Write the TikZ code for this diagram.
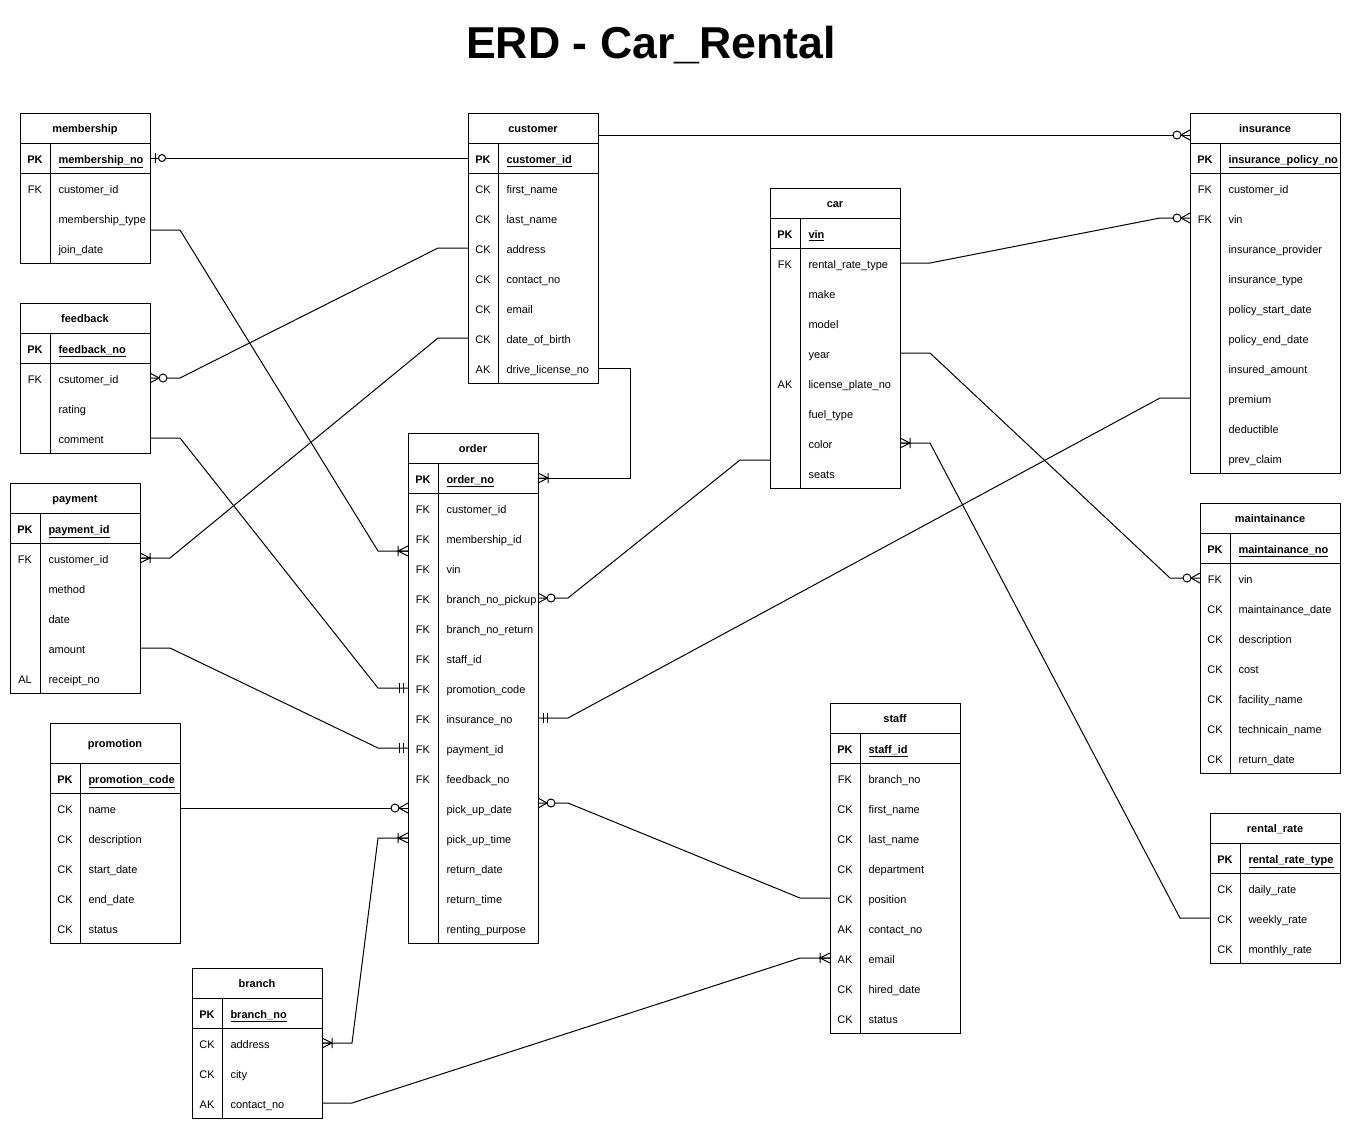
\documentclass[tikz,border=0pt]{standalone}
\usepackage{fontspec}
\setmainfont{Liberation Sans}
\usetikzlibrary{calc}

% one table: name, x, y, width, header height, title, key/field rows
\newcommand{\erdtable}[7]{%
  \node[tabhead, minimum width={#4*0.75pt}, minimum height={#5*0.75pt}] (#1) at (#2,#3) {#6};
  \foreach \k/\f [count=\i] in {#7}{%
    \node[rowbox, minimum width={#4*0.75pt}] (#1-\i) at ($(#1.south west)+(0,{30*(\i-1)})$) {};
    \node[keytext] at ($(#1-\i.west)+(15,0)$) {\ifnum\i=1 \bfseries\fi\k};
    \node[fieldtext] at ($(#1-\i.west)+(38,0)$) {\ifnum\i=1 \bfseries\underline{\f}\else\f\fi};
    \xdef\erdlast{\i}
  }
  \draw (#1.north west) rectangle (#1-\erdlast.south east);
  \draw (#1.south west) -- (#1.south east);
  \draw (#1-1.south west) -- (#1-1.south east);
  \draw ($(#1-1.north west)+(30,0)$) -- ($(#1-\erdlast.south west)+(30,0)$);
}

\begin{document}
\begin{tikzpicture}[x=0.75pt,y=0.75pt,yscale=-1,xscale=1,line width=0.75pt,
    font=\fontsize{8.25}{10}\selectfont,
    tabhead/.style={anchor=north west, inner sep=0pt, outer sep=0pt, text height=7pt, text depth=0pt, font=\fontsize{8.25}{10}\selectfont\bfseries},
    rowbox/.style={anchor=north west, inner sep=0pt, outer sep=0pt, minimum height=22.5pt},
    keytext/.style={inner sep=0pt, text height=7.5pt, text depth=0pt},
    fieldtext/.style={anchor=west, inner sep=0pt, text height=7.5pt, text depth=0pt},
    title/.style={font=\fontsize{33.5}{40}\selectfont\bfseries},
    onemany/.pic={\draw (0,-5) -- (10,0) -- (0,5) (0,0) -- (10,0) (10,-5) -- (10,5);},
    zeromany/.pic={\draw (0,-5) -- (9,0) -- (0,5); \draw[fill=white] (13,0) circle[radius=4];},
    mandone/.pic={\draw (5,-5) -- (5,5) (9,-5) -- (9,5);},
    zeroone/.pic={\draw (5,-5) -- (5,5); \draw[fill=white] (12,0) circle[radius=3.5];}]
    \useasboundingbox (0,0) rectangle (1351,1128);

    % Title
    \node[title] (ttl) at (651,45) {ERD - Car\_Rental};

    % Tables
    \erdtable{memb}{20}{113}{130}{30}{membership}{PK/membership\_no, FK/customer\_id, /membership\_type, /join\_date}
    \erdtable{cust}{468}{113}{130}{30}{customer}{PK/customer\_id, CK/first\_name, CK/last\_name, CK/address, CK/contact\_no, CK/email, CK/date\_of\_birth, AK/drive\_license\_no}
    \erdtable{ins}{1190}{113}{150}{30}{insurance}{PK/insurance\_policy\_no, FK/customer\_id, FK/vin, /insurance\_provider, /insurance\_type, /policy\_start\_date, /policy\_end\_date, /insured\_amount, /premium, /deductible, /prev\_claim}
    \erdtable{car}{770}{188}{130}{30}{car}{PK/vin, FK/rental\_rate\_type, /make, /model, /year, AK/license\_plate\_no, /fuel\_type, /color, /seats}
    \erdtable{fb}{20}{303}{130}{30}{feedback}{PK/feedback\_no, FK/csutomer\_id, /rating, /comment}
    \erdtable{pay}{10}{483}{130}{30}{payment}{PK/payment\_id, FK/customer\_id, /method, /date, /amount, AL/receipt\_no}
    \erdtable{ord}{408}{433}{130}{30}{order}{PK/order\_no, FK/customer\_id, FK/membership\_id, FK/vin, FK/branch\_no\_pickup, FK/branch\_no\_return, FK/staff\_id, FK/promotion\_code, FK/insurance\_no, FK/payment\_id, FK/feedback\_no, /pick\_up\_date, /pick\_up\_time, /return\_date, /return\_time, /renting\_purpose}
    \erdtable{maint}{1200}{503}{140}{30}{maintainance}{PK/maintainance\_no, FK/vin, CK/maintainance\_date, CK/description, CK/cost, CK/facility\_name, CK/technicain\_name, CK/return\_date}
    \erdtable{promo}{50}{723}{130}{40}{promotion}{PK/promotion\_code, CK/name, CK/description, CK/start\_date, CK/end\_date, CK/status}
    \erdtable{staff}{830}{703}{130}{30}{staff}{PK/staff\_id, FK/branch\_no, CK/first\_name, CK/last\_name, CK/department, CK/position, AK/contact\_no, AK/email, CK/hired\_date, CK/status}
    \erdtable{rr}{1210}{813}{130}{30}{rental\_rate}{PK/rental\_rate\_type, CK/daily\_rate, CK/weekly\_rate, CK/monthly\_rate}
    \erdtable{br}{192}{968}{130}{30}{branch}{PK/branch\_no, CK/address, CK/city, AK/contact\_no}

    % Relationships
    \draw (memb-1.east) -- (cust-1.west);
    \pic at (memb-1.east) {zeroone};

    \draw ($(cust.east)+(0,7)$) -- ($(ins.west)+(0,7)$);
    \pic[xscale=-1] at ($(ins.west)+(0,7)$) {zeromany};

    \draw (cust-8.east) -- ++(32,0) |- (ord-1.east);
    \pic at (ord-1.east) {onemany};

    \draw (cust-4.west) -- ++(-30,0) -- ($(fb-2.east)+(30,0)$) -- (fb-2.east);
    \pic at (fb-2.east) {zeromany};

    \draw (cust-7.west) -- ++(-30,0) -- ($(pay-2.east)+(30,0)$) -- (pay-2.east);
    \pic at (pay-2.east) {onemany};

    \draw ($(memb-3.east)+(0,12)$) -- ++(30,0) -- ($(ord-3.west)+(-30,13)$) -- ($(ord-3.west)+(0,13)$);
    \pic[xscale=-1] at ($(ord-3.west)+(0,13)$) {onemany};

    \draw (fb-4.east) -- ++(30,0) -- ($(ord-8.west)+(-30,0)$) -- (ord-8.west);
    \pic[xscale=-1] at (ord-8.west) {mandone};

    \draw (pay-5.east) -- ++(30,0) -- ($(ord-10.west)+(-30,0)$) -- (ord-10.west);
    \pic[xscale=-1] at (ord-10.west) {mandone};

    \draw (promo-2.east) -- (ord-12.west);
    \pic[xscale=-1] at (ord-12.west) {zeromany};

    \draw (br-2.east) -- ++(30,0) -- ($(ord-13.west)+(-30,0)$) -- (ord-13.west);
    \pic at (br-2.east) {onemany};
    \pic[xscale=-1] at (ord-13.west) {onemany};

    \draw (br-4.east) -- ++(30,0) -- ($(staff-8.west)+(-30,0)$) -- (staff-8.west);
    \pic[xscale=-1] at (staff-8.west) {onemany};

    \draw ($(ord-12.east)+(0,-5)$) -- ++(30,0) -- ($(staff-6.west)+(-30,0)$) -- (staff-6.west);
    \pic at ($(ord-12.east)+(0,-5)$) {zeromany};

    \draw (ord-5.east) -- ++(30,0) -- ($(car-9.west)+(-30,-13)$) -- ($(car-9.west)+(0,-13)$);
    \pic at (ord-5.east) {zeromany};

    \draw (ord-9.east) -- ++(30,0) -- ($(ins-9.west)+(-30,0)$) -- (ins-9.west);
    \pic at (ord-9.east) {mandone};

    \draw (car-2.east) -- ++(30,0) -- ($(ins-3.west)+(-30,0)$) -- (ins-3.west);
    \pic[xscale=-1] at (ins-3.west) {zeromany};

    \draw (car-5.east) -- ++(30,0) -- ($(maint-2.west)+(-30,0)$) -- (maint-2.west);
    \pic[xscale=-1] at (maint-2.west) {zeromany};

    \draw (car-8.east) -- ++(30,0) -- ($(rr-3.west)+(-30,0)$) -- (rr-3.west);
    \pic at (car-8.east) {onemany};

\end{tikzpicture}
\end{document}
